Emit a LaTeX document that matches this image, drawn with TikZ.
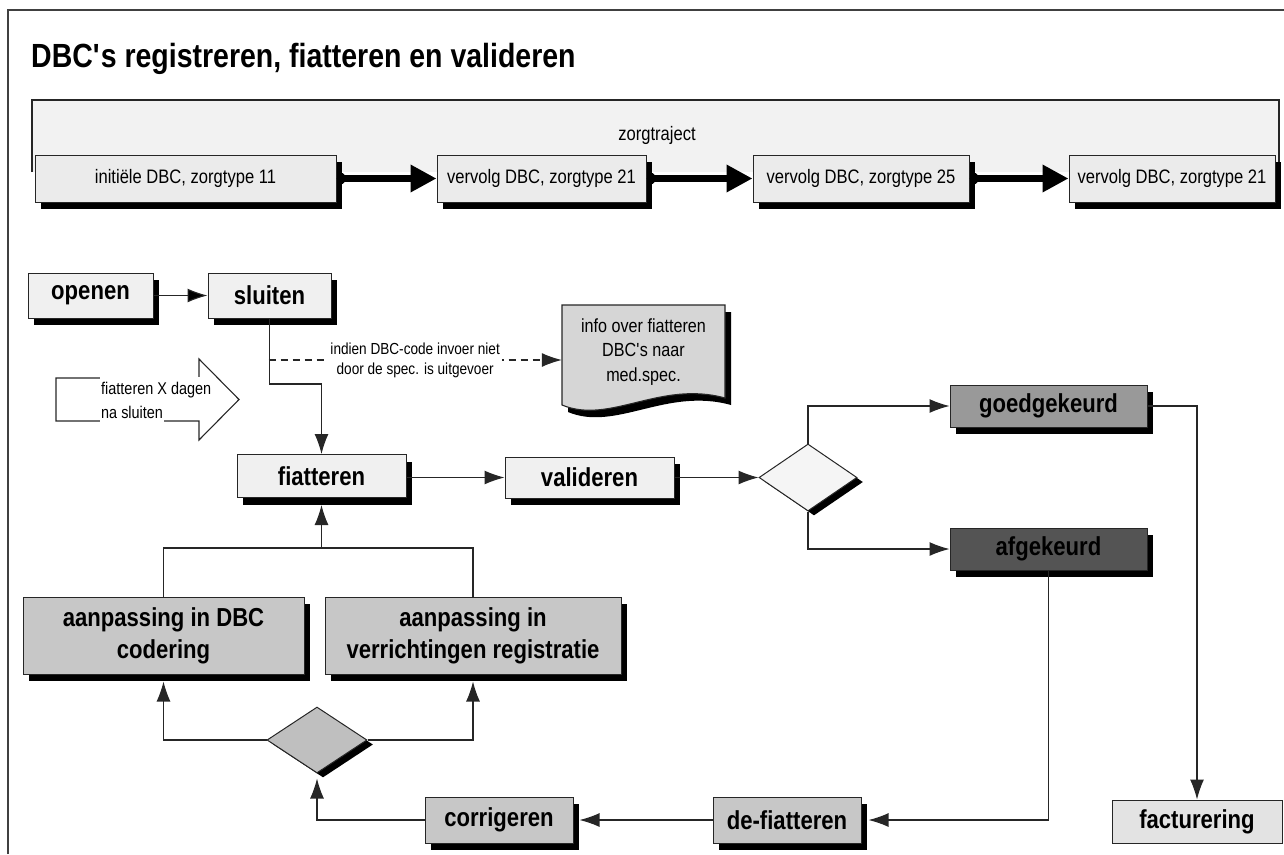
\documentclass[tikz,border=0pt]{standalone}
\usepackage{fontspec}
\setmainfont{Liberation Sans}[FakeStretch=0.85]
\usepackage{tikz}
\usetikzlibrary{shapes,arrows,arrows.meta,positioning,shadows,backgrounds,calc}
\tikzset{base box/.style={rectangle,draw=black!85,line width=1pt,inner sep=0pt,align=center},
	shadowed/.style={drop shadow={shadow xshift=6pt,shadow yshift=-7pt,opacity=1,fill=black}},
	main node/.style={base box,shadowed,fill=black!6,minimum height=45pt,font=\bfseries\fontsize{26}{32}\selectfont},
	grey node/.style={main node,fill=black!22},
	dbc node/.style={base box,shadowed,fill=black!8,minimum height=47pt,font=\fontsize{19.5}{22}\selectfont},
	decision node/.style={diamond,draw=black!85,line width=1pt,inner sep=0pt,minimum width=98pt,minimum height=67pt,
		drop shadow={shadow xshift=6pt,shadow yshift=-4.5pt,opacity=1,fill=black}},
	plain line/.style={draw=black!85,line width=1.1pt},
	flow line/.style={plain line,-{Latex[length=20pt,width=14pt]}},
	thick flow/.style={draw=black,line width=7pt,{Diamond[length=12pt,width=11pt]}-{Triangle[length=26pt,width=26pt]}},
	dash flow/.style={flow line,dash pattern=on 7pt off 5pt},
	cond label/.style={fill=white,inner sep=2pt,align=center,font=\fontsize{16}{20}\selectfont},
	arrow label/.style={fill=white,inner xsep=1pt,inner ysep=4.3pt,anchor=base west,font=\fontsize{17}{20}\selectfont},
	doc text/.style={align=center,minimum width=163pt,inner sep=0pt,font=\fontsize{19}{24.5}\selectfont},
}
\tikzstyle{heading}=[anchor=base west,inner sep=0pt,font=\bfseries\fontsize{33.5}{36}\selectfont]

\begin{document}
\begin{tikzpicture}[x=1pt,y=-1pt]
	\useasboundingbox (0,0) rectangle (1284,854);
	\draw[black!75,line width=1.3pt] (8,854) -- (8,10) -- (1284,10);
	\node[heading] (kop) at (31,67) {DBC\textquotesingle s registreren, fiatteren en valideren};
	
	\fill[black!5] (32,100) rectangle (1279,172);
	\draw[plain line] (32,172) -- (32,100) -- (1279,100) -- (1279,172);
	\node[font=\fontsize{19.5}{22}\selectfont] (traject) at (657,135) {zorgtraject};
	
	\node[dbc node,minimum width=301pt] (dbc1) at (185.5,178.5) {initiële DBC, zorgtype 11};
	\node[dbc node,minimum width=209pt] (dbc2) at (541.5,178.5) {vervolg DBC, zorgtype 21};
	\node[dbc node,minimum width=216pt] (dbc3) at (861,178.5) {vervolg DBC, zorgtype 25};
	\node[dbc node,minimum width=206pt] (dbc4) at (1172,178.5) {vervolg DBC, zorgtype 21};
	
	\path
	(dbc1) edge[thick flow] (dbc2)
	(dbc2) edge[thick flow] (dbc3)
	(dbc3) edge[thick flow] (dbc4)
	;
	
	\node[main node,minimum width=125pt] (openen) at (90.5,295.5) {openen};
	\node[main node,minimum width=123pt] (sluiten) [right=54pt of openen] {sluiten};
	\node[main node,minimum width=169pt,minimum height=43pt] (fiat) at (321.5,476) {fiatteren};
	\node[main node,minimum width=169pt,minimum height=41pt] (valid) at (589.5,477.5) {valideren};
	
	\node[doc text] (info) at (643.5,352) {info over fiatteren\\DBC\textquotesingle s naar\\med.spec.};
	\begin{scope}[on background layer]
		\fill[black] (568,312) -- (731,312) -- (731,405) .. controls (666,387) and (616,432) .. (568,412) -- cycle;
		\draw[plain line,fill=black!16] (562,305) -- (725,305) -- (725,398) .. controls (660,380) and (610,425) .. (562,405) -- cycle;
	\end{scope}
	
	\draw[plain line] (56,378) -- (199,378) -- (199,359) -- (239,399.5) -- (199,440) -- (199,421) -- (56,421) -- cycle;
	\node[arrow label] (xdagen) at (100,394) {fiatteren X dagen};
	\node[arrow label] (nasluiten) at (100,418) {na sluiten};
	
	\path[flow line] (openen) edge (sluiten);
	\coordinate (bend) at (321.5,384);
	\coordinate (dashstart) at (268.5,360);
	\draw[flow line] (sluiten.south) |- (bend) -- (fiat.north);
	\draw[dash flow] (dashstart) -- (dashstart -| info.west)
	node[midway,cond label] (conditie) {indien DBC-code invoer niet\\door de spec. is uitgevoer};
	\draw[flow line] (fiat.east |- valid.west) -- (valid.west);
	
	\node[decision node,fill=black!4] (check) at (808,477.5) {};
	\node[main node,fill=black!40,minimum width=197pt,minimum height=42pt] (goed) at (1048.5,406) {goedgekeurd};
	\node[main node,fill=black!67,minimum width=197pt,minimum height=42pt] (afge) at (1048.5,549) {afgekeurd};
	\node[base box,fill=black!11,minimum width=170pt,minimum height=43pt,font=\bfseries\fontsize{26}{32}\selectfont] (fact) at (1197,821.5) {facturering};
	\draw[flow line] (valid.east) -- (check.west);
	\draw[flow line] (check.north) |- (goed.west);
	\draw[flow line] (check.south) |- (afge.west);
	\draw[flow line] (goed.east) -| (fact.north);
	
	\node[grey node,minimum width=281pt,minimum height=77pt] (aanp1) at (163.5,635.5) {aanpassing in DBC\\codering};
	\node[grey node,minimum width=296pt,minimum height=77pt] (aanp2) at (473,635.5) {aanpassing in\\verrichtingen registratie};
	\coordinate (merge) at (321.5,548);
	\draw[plain line] (aanp1.north) |- (merge) -| (aanp2.north);
	\draw[flow line] (merge) -- ([yshift=-7pt]fiat.south);
	
	\node[decision node,fill=black!25,minimum width=100pt,minimum height=66pt] (keuze) at (317,740) {};
	\draw[flow line] (keuze.west) -| ([yshift=-7pt]aanp1.south);
	\draw[flow line] (keuze.east) -| ([yshift=-7pt]aanp2.south);
	
	\node[grey node,minimum width=148pt,minimum height=46pt] (corr) at (499,820) {corrigeren};
	\node[grey node,minimum width=148pt,minimum height=46pt] (defiat) at (787,820) {de-fiatteren};
	\draw[flow line] (afge.south) |- ([xshift=7pt]defiat.east);
	\draw[flow line] (defiat.west) -- ([xshift=6pt]corr.east);
	\draw[flow line] (corr.west) -| ([yshift=-5pt]keuze.south);
\end{tikzpicture}
\end{document}
